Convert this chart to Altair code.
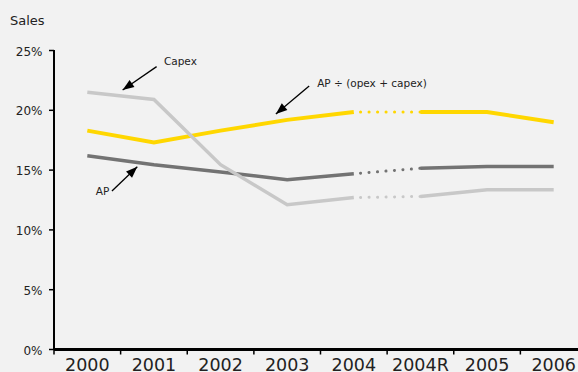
import math
import altair as alt
import pandas as pd

# ---- data ----
years = ["2000", "2001", "2002", "2003", "2004", "2004R", "2005", "2006"]
capex = [21.5, 20.9, 15.45, 12.1, 12.7, 12.8, 13.35, 13.35]
ap = [16.2, 15.45, 14.85, 14.2, 14.7, 15.15, 15.3, 15.3]
ratio = [18.3, 17.3, 18.3, 19.2, 19.85, 19.85, 19.85, 19.0]
y_ticks = [0, 5, 10, 15, 20, 25]
y_title = "Sales"

labels_text = ["Capex", "AP", "AP ÷ (opex + capex)"]
label_x = [1.15, 0.33, 3.45]
label_y = [24.05, 13.15, 22.2]
label_align = ["left", "right", "left"]
arrow_x1 = [1.04, 0.37, 3.33]   # tails
arrow_y1 = [23.65, 13.25, 22.03]
arrow_x2 = [0.53, 0.75, 2.83]   # tips
arrow_y2 = [21.7, 15.28, 19.69]

# ---- styling ----
BG = "#F2F2F2"
YELLOW = "#FFD700"
DARK = "#737373"
LIGHT = "#C8C8C8"
FONT = "DejaVu Sans"
TEXT = "#222222"

PLOT_W = 524      # visible width (window)
RANGE_W = 533     # x range (last category runs past the window edge)
PLOT_H = 299
Y_MAX = 25
N = len(years)
STEP = RANGE_W / N

x_scale = alt.Scale(domain=[-0.5, N - 0.5], range=[0, RANGE_W], nice=False, zero=False)
y_scale = alt.Scale(domain=[0, Y_MAX], nice=False, zero=True)


def X(field):
    return alt.X(field, scale=x_scale, axis=None)


def Y(field):
    return alt.Y(field, scale=y_scale, axis=None)


def series_layers(values, color, width):
    df = pd.DataFrame({"year": years, "value": values, "idx": list(range(N))})
    solid_a = df[df["idx"] <= 4].assign(seg="a")
    solid_b = df[df["idx"] >= 5].assign(seg="b")
    solid = pd.concat([solid_a, solid_b])
    dotted = df[(df["idx"] == 4) | (df["idx"] == 5)]
    l1 = alt.Chart(solid).mark_line(color=color, strokeWidth=width,
                                    strokeCap="butt", strokeJoin="miter").encode(
        x=X("idx:Q"), y=Y("value:Q"), detail="seg:N", order="idx:Q")
    l2 = alt.Chart(dotted).mark_line(color=color, strokeWidth=3, strokeCap="round",
                                     strokeDash=[0.1, 8.4], strokeDashOffset=1.8).encode(
        x=X("idx:Q"), y=Y("value:Q"), order="idx:Q")
    return [l1, l2]


# ---- axes drawn from the tick lists through the scales ----
yt = pd.DataFrame({"v": y_ticks, "label": ["%d%%" % v for v in y_ticks]})
xb = pd.DataFrame({"b": [i - 0.5 for i in range(N + 1)]})
xl = pd.DataFrame({"idx": list(range(N)), "year": years})

y_domain = alt.Chart(yt).mark_rule(color="black", strokeWidth=2).encode(
    x=alt.value(0), y=alt.value(0), y2=alt.value(PLOT_H))
x_domain = alt.Chart(xb).mark_rule(color="black", strokeWidth=2).encode(
    y=alt.value(PLOT_H), x=alt.value(0), x2=alt.value(RANGE_W))
y_tick_marks = alt.Chart(yt).mark_rule(color="black", strokeWidth=1.5).encode(
    x=alt.value(-5), x2=alt.value(0), y=Y("v:Q"))
y_labels = alt.Chart(yt).mark_text(align="right", baseline="middle", font=FONT,
                                   fontSize=12, color=TEXT, dy=1).encode(
    x=alt.value(-11.5), y=Y("v:Q"), text="label:N")
x_tick_marks = alt.Chart(xb).mark_rule(color="black", strokeWidth=1.5).encode(
    x=X("b:Q"), y=alt.value(PLOT_H), y2=alt.value(PLOT_H + 5))
x_labels = alt.Chart(xl).mark_text(align="center", baseline="top", font=FONT,
                                   fontSize=17.5, color=TEXT).encode(
    x=X("idx:Q"), y=alt.value(PLOT_H + 7), text="year:N")
title = alt.Chart(pd.DataFrame({"t": [y_title]})).mark_text(
    align="left", baseline="alphabetic", font=FONT, fontSize=13, color=TEXT).encode(
    x=alt.value(-44), y=alt.value(-25.5), text="t:N")

# ---- annotations (arrows + labels) in data coordinates ----
px_y = PLOT_H / Y_MAX
angles = []
for a, b, c, d in zip(arrow_x1, arrow_y1, arrow_x2, arrow_y2):
    dx = (c - a) * STEP
    dy = -(d - b) * px_y
    angles.append(math.degrees(math.atan2(dx, -dy)) % 360)

ann = pd.DataFrame({"text": labels_text, "lx": label_x, "ly": label_y,
                    "anchor": label_align, "x1": arrow_x1, "y1": arrow_y1,
                    "x2": arrow_x2, "y2": arrow_y2, "angle": angles})

rules = alt.Chart(ann).mark_rule(color="black", strokeWidth=1.3).encode(
    x=X("x1:Q"), x2="x2:Q", y=Y("y1:Q"), y2="y2:Q")

heads = alt.Chart(ann).mark_point(shape="M0,0L-0.38,1L0.38,1Z", filled=True,
                                  size=520, color="black", opacity=1).encode(
    x=X("x2:Q"), y=Y("y2:Q"), angle=alt.Angle("angle:Q", scale=None))

left_txt = alt.Chart(ann[ann["anchor"] == "left"]).mark_text(
    align="left", baseline="middle", font=FONT, fontSize=10.5, color=TEXT).encode(
    x=X("lx:Q"), y=Y("ly:Q"), text="text:N")
right_txt = alt.Chart(ann[ann["anchor"] == "right"]).mark_text(
    align="right", baseline="middle", font=FONT, fontSize=10.5, color=TEXT).encode(
    x=X("lx:Q"), y=Y("ly:Q"), text="text:N")

layers = ([x_domain, y_domain, x_tick_marks, y_tick_marks, x_labels, y_labels, title]
          + series_layers(ratio, YELLOW, 4)
          + series_layers(ap, DARK, 3.5)
          + series_layers(capex, LIGHT, 3.5)
          + [rules, heads, left_txt, right_txt])

chart = alt.layer(*layers).properties(
    width=PLOT_W, height=PLOT_H,
    autosize=alt.AutoSizeParams(type="none"),
    padding={"left": 54, "top": 50.5, "right": 0, "bottom": 22.5},
    background=BG,
).configure_view(stroke=None)

chart.save("out.html", embed_options={"renderer": "svg", "actions": False})
